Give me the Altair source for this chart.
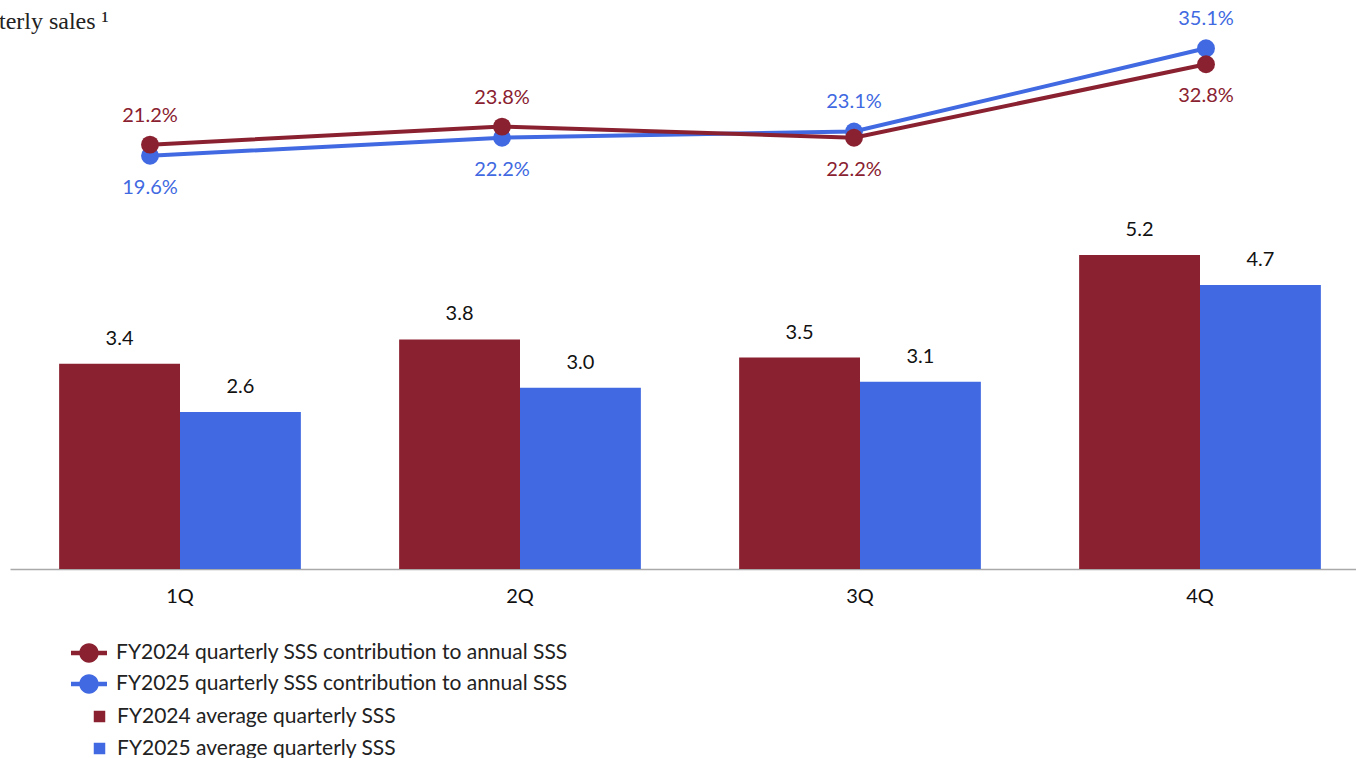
import altair as alt
import pandas as pd

# ---- data ----
quarters = ["1Q", "2Q", "3Q", "4Q"]
bar_series = ["FY2024 average quarterly SSS", "FY2025 average quarterly SSS"]
line_series = [
    "FY2024 quarterly SSS contribution to annual SSS",
    "FY2025 quarterly SSS contribution to annual SSS",
]
avg_fy2024 = [3.4, 3.8, 3.5, 5.2]
avg_fy2025 = [2.6, 3.0, 3.1, 4.7]
contrib_fy2024 = [21.2, 23.8, 22.2, 32.8]
contrib_fy2025 = [19.6, 22.2, 23.1, 35.1]
label_side_fy2024 = ["above", "above", "below", "below"]
label_side_fy2025 = ["below", "below", "above", "above"]

RED = "#8A2130"
BLUE = "#4169E1"
FONT = "Lato"

bar_df = pd.DataFrame(
    {
        "quarter": quarters * 2,
        "series": [bar_series[0]] * 4 + [bar_series[1]] * 4,
        "value": avg_fy2024 + avg_fy2025,
    }
)
# blue rows first so red is drawn on top
line_df = pd.DataFrame(
    {
        "quarter": quarters * 2,
        "series": [line_series[1]] * 4 + [line_series[0]] * 4,
        "value": contrib_fy2025 + contrib_fy2024,
        "side": label_side_fy2025 + label_side_fy2024,
    }
)

# ---- bars ----
x_bar = alt.X(
    "quarter:N",
    sort=quarters,
    scale=alt.Scale(domain=quarters, range=[0, 1360], paddingInner=0.289, paddingOuter=0.1445),
    axis=alt.Axis(
        title=None, labelAngle=0, ticks=False, grid=False,
        domainColor="#A9A9A9", domainWidth=1.5,
        labelFont=FONT, labelFontSize=20, labelColor="#111111", labelPadding=17,
    ),
)
x_off = alt.XOffset("series:N", scale=alt.Scale(domain=bar_series, paddingInner=0, paddingOuter=0))
y_bar = alt.Y("value:Q", scale=alt.Scale(domain=[0, 8.758], nice=False, zero=True), axis=None)

bars = alt.Chart(bar_df).mark_bar(strokeWidth=0).encode(
    x=x_bar,
    xOffset=x_off,
    y=y_bar,
    color=alt.Color(
        "series:N",
        scale=alt.Scale(domain=bar_series, range=[RED, BLUE]),
        legend=alt.Legend(
            title=None, orient="none", legendX=79, legendY=666, direction="vertical",
            symbolType="square", symbolSize=132, symbolStrokeWidth=0, symbolOpacity=1,
            labelFont=FONT, labelFontSize=21, labelColor="#222222", labelOffset=7,
            labelLimit=800, rowPadding=10, padding=0,
        ),
    ),
)
bar_text = alt.Chart(bar_df).mark_text(
    font=FONT, fontSize=20, color="#111111", baseline="middle", dy=-25
).encode(
    x=x_bar, xOffset=x_off, y=y_bar, text=alt.Text("value:Q", format=".1f")
)
bar_layer = alt.layer(bars, bar_text)

# ---- lines ----
x_line = alt.X(
    "quarter:N", sort=quarters,
    scale=alt.Scale(type="point", domain=quarters, range=[140, 1196], padding=0),
    axis=None,
)
y_line = alt.Y("value:Q", scale=alt.Scale(domain=[-40.04, 36.30], nice=False, zero=False), axis=None)

line_symbol = (
    "M-1,-0.12L1,-0.12L1,0.12L-1,0.12Z "
    "M0.54,0A0.54,0.54,0,1,1,-0.54,0A0.54,0.54,0,1,1,0.54,0Z"
)

line_legend = alt.Legend(
    title=None, orient="none", legendX=61, legendY=595, direction="vertical",
    symbolType=line_symbol, symbolSize=1296, symbolStrokeWidth=0, symbolOpacity=1,
    labelFont=FONT, labelFontSize=21, labelColor="#222222", labelOffset=9,
    labelLimit=800, rowPadding=3, padding=0,
)
line_scale = alt.Scale(domain=line_series, range=[RED, BLUE])
stroke_enc = alt.Stroke("series:N", scale=line_scale, legend=line_legend)
fill_enc = alt.Fill("series:N", scale=line_scale, legend=line_legend)

base_line = alt.Chart(line_df)
layers = []
for s in [line_series[1], line_series[0]]:
    f = alt.datum.series == s
    layers.append(
        base_line.transform_filter(f).mark_line(strokeWidth=4).encode(x=x_line, y=y_line, stroke=stroke_enc)
    )
    layers.append(
        base_line.transform_filter(f).mark_circle(size=320, opacity=1).encode(x=x_line, y=y_line, fill=fill_enc)
    )

text_color = alt.condition(alt.datum.series == line_series[0], alt.value(RED), alt.value(BLUE))
for side, dy in [("above", -29), ("below", 32)]:
    layers.append(
        base_line.transform_filter(alt.datum.side == side)
        .transform_calculate(label="format(datum.value, '.1f') + '%'")
        .mark_text(font=FONT, fontSize=20, baseline="middle", dy=dy)
        .encode(x=x_line, y=y_line, text="label:N", color=text_color)
    )
line_layer = alt.layer(*layers)

chart = (
    alt.layer(bar_layer, line_layer)
    .resolve_scale(x="independent", y="independent")
    .properties(
        width=1346,
        height=529,
        padding={"left": 10, "top": 40, "right": 0, "bottom": 189},
        autosize=alt.AutoSizeParams(type="none"),
        title=alt.TitleParams(
            "Quarterly sales ¹", anchor="start", frame="group", dx=-59, dy=57, offset=13,
            baseline="alphabetic", font="Liberation Serif", fontSize=24,
            fontWeight="normal", color="#222222",
        ),
    )
    .configure_view(stroke=None)
)

chart.save("out.html", embed_options={"renderer": "svg", "actions": False})
